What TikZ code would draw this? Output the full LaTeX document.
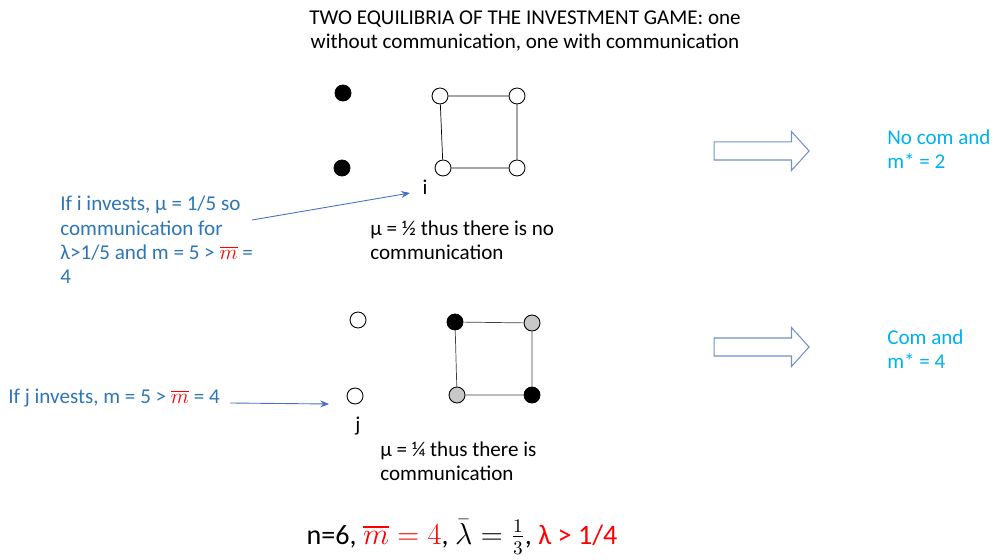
\documentclass[tikz,border=0pt]{standalone}
\usepackage{fontspec}
\setmainfont{Carlito}
\usepackage{amsmath}
\usepackage{tikz}
\usetikzlibrary{arrows.meta, positioning, shapes.arrows}
\definecolor{txtblue}{HTML}{2E75B6}
\definecolor{arrblue}{HTML}{4472C4}
\definecolor{comcyan}{HTML}{00B0F0}
\definecolor{dotgray}{HTML}{C8C8C8}
\definecolor{blockedge}{HTML}{7391C8}

\begin{document}
\begin{tikzpicture}[x=0.02cm, y=-0.02cm,
  dot/.style={circle, draw, minimum size=0.32cm, inner sep=0pt, line width=0.5pt},
  txt/.style={font=\fontsize{12}{13.9}\selectfont, align=left, inner sep=0pt},
  note/.style={txt, text=txtblue},
  result/.style={txt, text=comcyan},
  bigarrow/.style={single arrow, draw=blockedge, fill=white, line width=0.6pt,
                   minimum height=1.9cm, inner xsep=0pt, inner ysep=0.17cm,
                   single arrow head extend=0.21cm, single arrow tip angle=96,
                   single arrow head indent=0pt},
  link/.style={-{Stealth[length=5pt, width=4pt]}, arrblue, line width=0.5pt}
]
  \useasboundingbox (0,0) rectangle (1000,560);

  \node[txt, align=center] (title) at (525,31)
    {TWO EQUILIBRIA OF THE INVESTMENT GAME: one\\without communication, one with communication};

  % equilibrium without communication
  \node[dot, fill=black] (a1) at (343,93) {};
  \node[dot, fill=black] (a2) at (342,168) {};
  \node[dot, fill=white] (s1) at (440,96) {};
  \node[dot, fill=white] (s2) at (517,96) {};
  \node[dot, fill=white] (s3) at (443,168) {};
  \node[dot, fill=white] (s4) at (517,168) {};
  \draw (s1) -- (s2) -- (s4) -- (s3) -- (s1);
  \node[txt] (ilab) at (425,187) {i};
  \node[txt, anchor=west] (mu1) at (370,240) {μ = ½ thus there is no\\communication};
  \node[note, anchor=west] (inote) at (60,240)
    {If i invests, μ = 1/5 so\\communication for\\λ>1/5 and m = 5 > {\color{red}$\overline{m}$} =\\4};
  \coordinate (istart) at (252,220);
  \coordinate (iend) at (410,193);
  \draw[link] (istart) -- (iend);

  % equilibrium with communication
  \node[dot, fill=white] (b1) at (358,320) {};
  \node[dot, fill=white] (b2) at (355,396) {};
  \node[dot, fill=black] (t1) at (455,322) {};
  \node[dot, fill=dotgray] (t2) at (532,323) {};
  \node[dot, fill=dotgray] (t3) at (457,395) {};
  \node[dot, fill=black] (t4) at (532,395) {};
  \draw[black!75] (t1) -- (t2) -- (t4) -- (t3) -- (t1);
  \node[txt] (jlab) at (358,426) {j};
  \node[txt, anchor=west] (mu2) at (380,461) {μ = ¼ thus there is\\communication};
  \node[note, anchor=west] (jnote) at (8,398)
    {If j invests, m = 5 > {\color{red}$\overline{m}$} = 4};
  \coordinate (jstart) at (230,403);
  \coordinate (jend) at (329,404);
  \draw[link] (jstart) -- (jend);

  % results
  \node[bigarrow] (r1) at (757.5,151) {};
  \node[bigarrow] (r2) at (757.5,347) {};
  \node[result, anchor=west] (res1) at (887,149) {No com and\\m* = 2};
  \node[result, anchor=west] (res2) at (887,349) {Com and\\m* = 4};

  \node[font=\fontsize{16}{19}\selectfont] (params) at (462,537)
    {n=6, {\color{red}$\overline{m} = 4$}, $\bar{\lambda} = \frac{1}{3}$, {\color{red}λ > 1/4}};
\end{tikzpicture}
\end{document}
